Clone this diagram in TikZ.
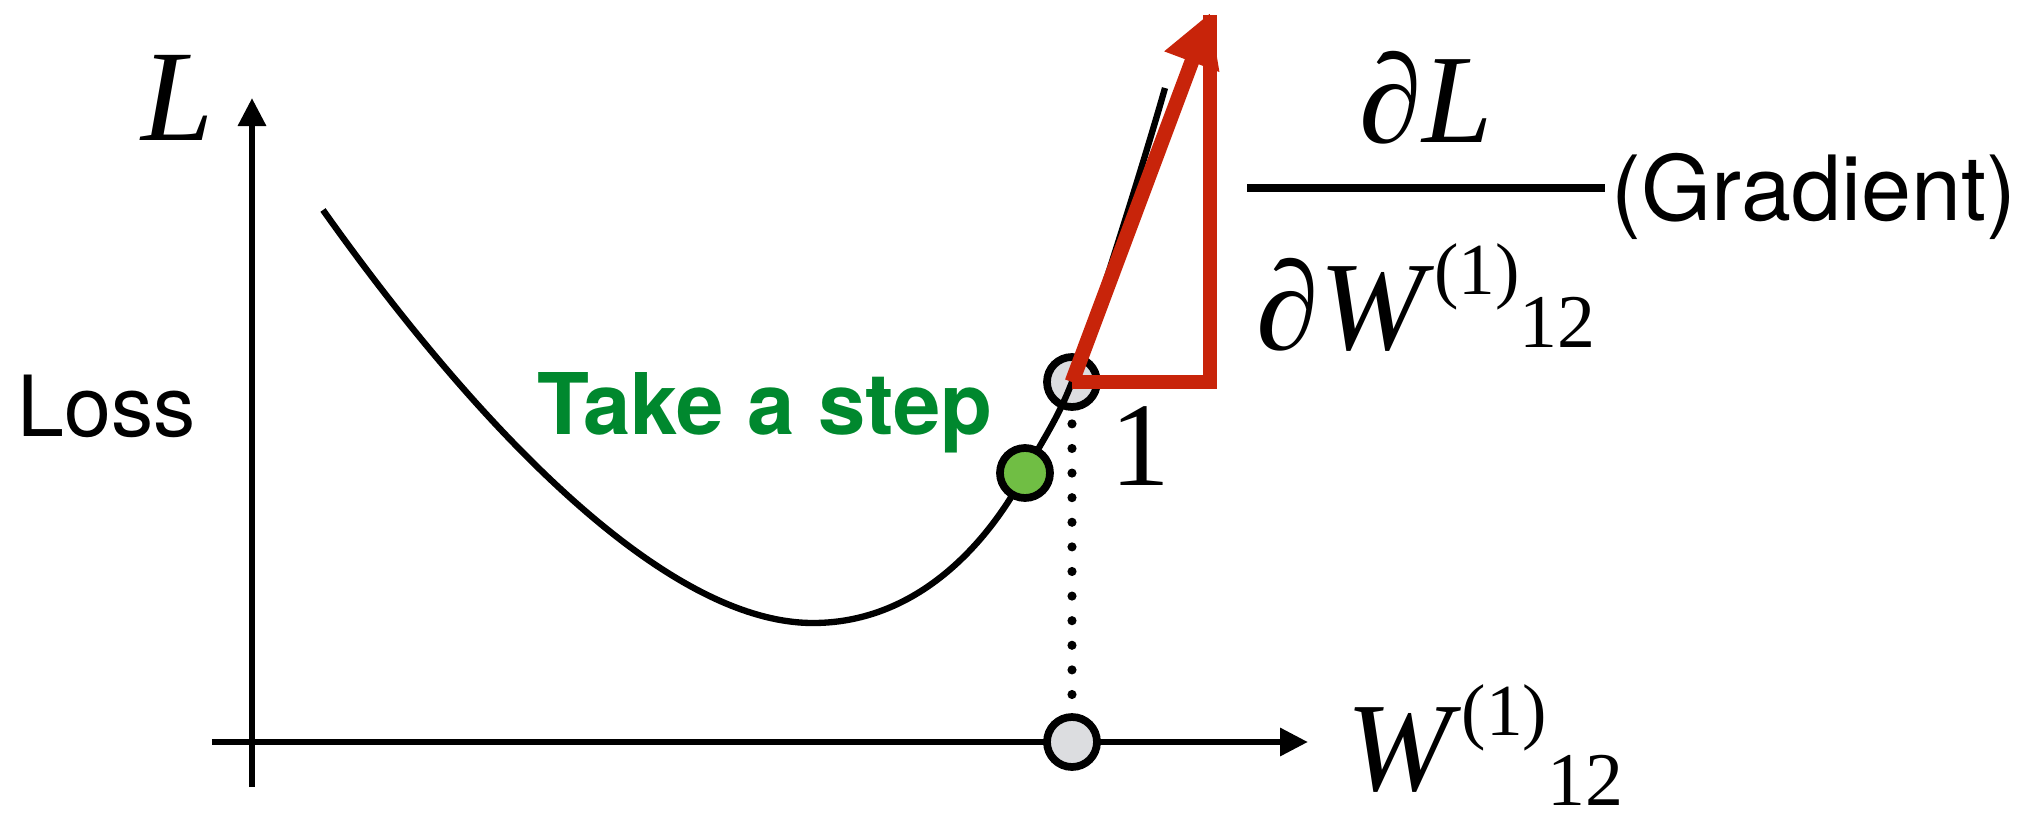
\documentclass[tikz,border=0pt]{standalone}
\usepackage{fontspec}
\setmainfont{Liberation Serif}
\newfontfamily\heros{TeX Gyre Heros}
\usepackage{tikz}
\usetikzlibrary{
  arrows.meta,  % 箭头样式
  calc,         % 坐标计算
  positioning   % 节点相对定位
}
\definecolor{gradred}{RGB}{200,36,10}
\definecolor{stepgreen}{RGB}{0,136,46}
\definecolor{dotgreen}{RGB}{112,190,68}
\definecolor{dotgrey}{RGB}{220,221,224}

% W^{(1)}_{12}，#2 为下标下移量
\newcommand{\wlbl}[2]{%
  \fontsize{#1}{#1}\selectfont\itshape W\/\upshape
  \raisebox{0.43em}{\fontsize{\fpeval{0.58*#1}}{\fpeval{0.6*#1}}\selectfont (1)}%
  \raisebox{-#2}{\fontsize{\fpeval{0.6*#1}}{\fpeval{0.6*#1}}\selectfont 12}}

\begin{document}
\begin{tikzpicture}[
    >=Stealth,
    axis/.style={line width=1.8pt, -{Triangle[length=0.28cm, width=0.27cm]}},
    lossline/.style={line width=1.8pt},
    olddot/.style={circle, draw, line width=2.2pt, fill=dotgrey, minimum size=0.5cm, inner sep=0pt},
    newdot/.style={olddot, fill=dotgreen},
    gradline/.style={gradred, line width=4.2pt},
    dotline/.style={line width=2.6pt, line cap=round, dash pattern=on 0pt off 7pt},
    sanslabel/.style={font=\heros\fontsize{24}{28}\selectfont},
  ]
    \useasboundingbox (-2.52,-0.77) rectangle (17.77,7.42);

    % 坐标轴
    \coordinate (origin) at (0,0);
    \draw[axis] (-0.40,0) -- (10.56,0);
    \draw[axis] (0,-0.45) -- (0,6.44);
    \node[anchor=base, font=\fontsize{37}{40}\selectfont\itshape] (Lbl) at (-0.74,6.02) {L};
    \node[anchor=base west, inner sep=0pt] (Wbl) at (10.94,-0.48) {\wlbl{36}{0.12em}};
    \node[sanslabel, anchor=base] (loss) at (-1.45,3.06) {Loss};

    % 损失曲线上的点
    \coordinate (start) at (0.71,5.32);
    \coordinate (bottom) at (5.61,1.19);
    \coordinate (top) at (9.13,6.54);
    \node[olddot] (wold) at (8.20,3.60) {};
    \node[olddot] (wproj) at (wold |- origin) {};

    % 损失曲线
    \draw[lossline] (start) .. controls (2.0,3.5) and (4.0,1.19) .. (bottom)
      .. controls (6.7,1.19) and (7.4,2.06) .. (7.73,2.69)
      .. controls (7.89,3.00) and (8.05,3.21) .. (wold.center)
      .. controls (8.45,4.30) and (8.95,5.90) .. (top);
    \node[newdot] (wnew) at (7.73,2.69) {};

    % 投影虚线
    \draw[dotline] ([yshift=-0.13cm]wold.south) -- (wproj.north);

    % 梯度三角形
    \coordinate (gradtip) at (9.58,7.29);
    \draw[gradline] (wold.center) -- (wold.center -| gradtip) -- ([yshift=-0.02cm]gradtip);
    \draw[gradline, -{Triangle[length=0.52cm, width=0.55cm]}] (wold.center) -- (gradtip);

    % 文字
    \node[sanslabel, font=\heros\bfseries\fontsize{24.2}{28}\selectfont, text=stepgreen, anchor=base] (step) at (5.13,3.08) {Take a step};
    \node[anchor=base, font=\fontsize{34}{36}\selectfont] (one) at (8.88,2.57) {1};

    % 偏导数分式
    \coordinate (barl) at (9.95,5.54);
    \coordinate (barr) at (13.53,5.54);
    \draw[line width=2pt] (barl) -- (barr);
    \node[anchor=base, font=\fontsize{36}{40}\selectfont] (num) at ($(barl)!0.5!(barr)+(0,0.46)$) {∂\textit{L}};
    \node[anchor=base, font=\fontsize{36}{40}\selectfont] (den) at ($(barl)!0.5!(barr)+(0,-1.61)$) {∂\wlbl{36}{-0.01em}};
    \node[sanslabel, font=\heros\fontsize{25.6}{30}\selectfont, anchor=base west, inner sep=0pt] (grad) at ($(barr)+(0.06,-0.32)$) {(Gradient)};
  \end{tikzpicture}
\end{document}
